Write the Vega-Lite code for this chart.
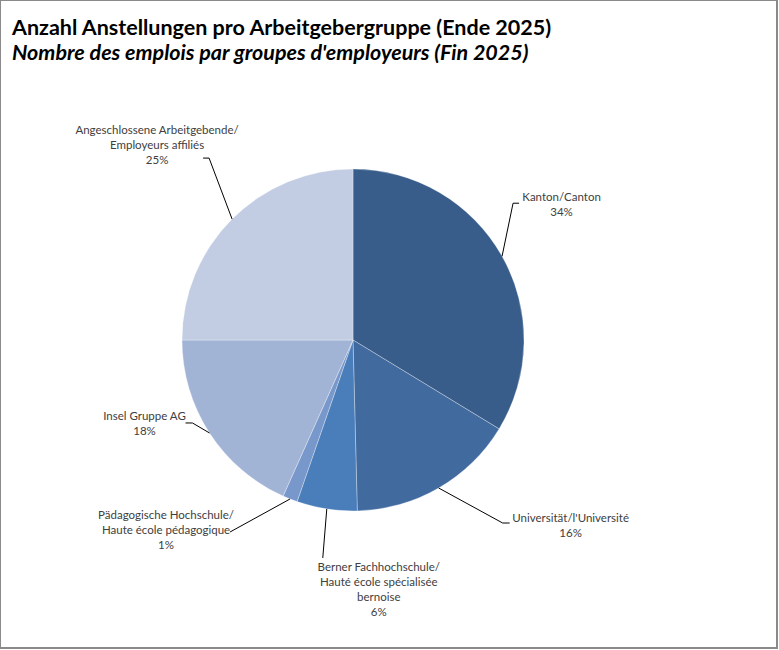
{
  "$schema": "https://vega.github.io/schema/vega-lite/v6.json",
  "width": 777,
  "height": 648,
  "autosize": {"type": "none"},
  "padding": {"left": 0, "top": 0, "right": 2, "bottom": 2},
  "background": "white",
  "title": {
    "text": "Anzahl Anstellungen pro Arbeitgebergruppe (Ende 2025)",
    "subtitle": "Nombre des emplois par groupes d'employeurs (Fin 2025)",
    "anchor": "start",
    "frame": "group",
    "orient": "top",
    "offset": -64,
    "dx": 12,
    "font": "Lato",
    "fontSize": 21.5,
    "fontWeight": "bold",
    "color": "#000000",
    "subtitleFont": "Lato",
    "subtitleFontSize": 21.5,
    "subtitleFontStyle": "italic",
    "subtitleFontWeight": "bold",
    "subtitleColor": "#000000",
    "subtitlePadding": 3
  },
  "config": {"view": {"stroke": "#8a8a8a", "strokeWidth": 2}},
  "data": {
    "values": [
      {"idx": 1, "group": "Kanton", "value": 33.7, "label": "Kanton/Canton\n34%"},
      {"idx": 2, "group": "Universität", "value": 15.9, "label": "Universität/l'Université\n16%"},
      {"idx": 3, "group": "BFH", "value": 5.7, "label": "Berner Fachhochschule/\nHauté école spécialisée\nbernoise\n6%"},
      {"idx": 4, "group": "PH", "value": 1.4, "label": "Pädagogische Hochschule/\nHaute école pédagogique\n1%"},
      {"idx": 5, "group": "Insel", "value": 18.3, "label": "Insel Gruppe AG\n18%"},
      {"idx": 6, "group": "Angeschlossene", "value": 25.0, "label": "Angeschlossene Arbeitgebende/\nEmployeurs affiliés\n25%"}
    ]
  },
  "transform": [
    {"stack": "value", "groupby": [], "sort": [{"field": "idx", "order": "ascending"}], "as": ["t0", "t1"]},
    {"calculate": "PI*(datum.t0+datum.t1)/100", "as": "mid"},
    {"calculate": "171*sin(datum.mid)", "as": "ex"},
    {"calculate": "-171*cos(datum.mid)", "as": "ey"},
    {"calculate": "datum.ex + [0, 11, 64, -4, -60, -17, -23][datum.idx]", "as": "bx"},
    {"calculate": "datum.ey + [0, -53, 35, 49, 33, -10, -61][datum.idx]", "as": "by"},
    {"calculate": "datum.bx + [0, 6, 7, 0, 0, -7, -6][datum.idx]", "as": "hx"},
    {"calculate": "datum.hx + [0, 42.5, 61, 56, -64, -41, -46][datum.idx]", "as": "tx"},
    {"calculate": "datum.by + [0, -5, -4, 10, -16, -6, -27][datum.idx]", "as": "ty"}
  ],
  "layer": [
    {
      "mark": {"type": "arc", "outerRadius": 171, "stroke": "#ffffff", "strokeWidth": 0.6, "strokeOpacity": 0.5},
      "encoding": {
        "theta": {"field": "t0", "type": "quantitative", "scale": {"domain": [0, 100]}, "stack": null},
        "theta2": {"field": "t1"},
        "color": {
          "field": "group",
          "type": "nominal",
          "scale": {
            "domain": ["Kanton", "Universität", "BFH", "PH", "Insel", "Angeschlossene"],
            "range": ["#385D8A", "#416A9F", "#4A7EBB", "#7897CA", "#A2B4D6", "#C2CDE3"]
          },
          "legend": null
        },
        "x": {"datum": 0, "type": "quantitative", "scale": {"domain": [-353, 424], "nice": false, "zero": false}, "axis": null},
        "y": {"datum": 0, "type": "quantitative", "scale": {"domain": [-340, 308], "reverse": true, "nice": false, "zero": false}, "axis": null}
      }
    },
    {
      "mark": {"type": "rule", "color": "#000000", "strokeWidth": 1},
      "encoding": {
        "x": {"field": "ex", "type": "quantitative", "scale": {"domain": [-353, 424], "nice": false, "zero": false}, "axis": null},
        "y": {"field": "ey", "type": "quantitative", "scale": {"domain": [-340, 308], "reverse": true, "nice": false, "zero": false}, "axis": null},
        "x2": {"field": "bx"},
        "y2": {"field": "by"}
      }
    },
    {
      "mark": {"type": "rule", "color": "#000000", "strokeWidth": 1},
      "encoding": {
        "x": {"field": "bx", "type": "quantitative", "scale": {"domain": [-353, 424], "nice": false, "zero": false}, "axis": null},
        "y": {"field": "by", "type": "quantitative", "scale": {"domain": [-340, 308], "reverse": true, "nice": false, "zero": false}, "axis": null},
        "x2": {"field": "hx"},
        "y2": {"field": "by"}
      }
    },
    {
      "mark": {"type": "text", "align": "center", "baseline": "middle", "lineBreak": "\n", "font": "Lato", "fontSize": 11.5, "lineHeight": 15, "color": "#404040"},
      "encoding": {
        "x": {"field": "tx", "type": "quantitative", "scale": {"domain": [-353, 424], "nice": false, "zero": false}, "axis": null},
        "y": {"field": "ty", "type": "quantitative", "scale": {"domain": [-340, 308], "reverse": true, "nice": false, "zero": false}, "axis": null},
        "text": {"field": "label"}
      }
    }
  ]
}
